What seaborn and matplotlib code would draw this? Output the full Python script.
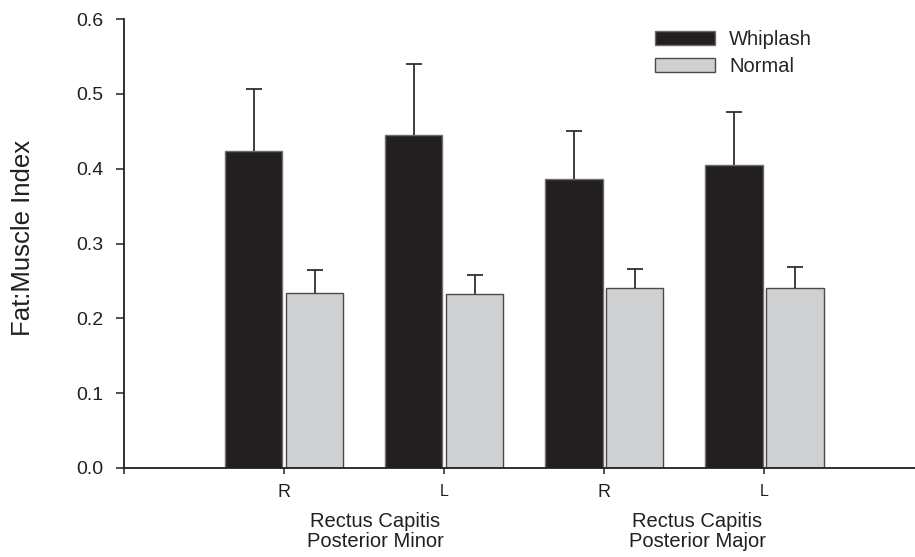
import pandas as pd
import matplotlib
matplotlib.use('Agg')
import matplotlib.pyplot as plt
import seaborn as sns
from matplotlib.patches import Patch

# values
sites = ['R minor', 'L minor', 'R major', 'L major']
side_labels = ['R', 'L', 'R', 'L']
whiplash = [0.423, 0.445, 0.386, 0.405]
whiplash_err = [0.084, 0.095, 0.065, 0.071]
normal = [0.234, 0.232, 0.240, 0.240]
normal_err = [0.030, 0.026, 0.026, 0.028]
groups = ['Whiplash', 'Normal']
muscle_labels = ['Rectus Capitis\nPosterior Minor', 'Rectus Capitis\nPosterior Major']

df = pd.DataFrame({
    'site': sites * 2,
    'group': ['Whiplash'] * 4 + ['Normal'] * 4,
    'index': whiplash + normal,
})

dark = '#231f20'
light = '#cfd0d2'

sns.set_style('ticks')
plt.rcParams['font.family'] = ['Liberation Sans', 'DejaVu Sans']

fig = plt.figure(figsize=(9.15, 5.57), dpi=100)
ax = fig.add_axes([124 / 915, 1 - 468 / 557, 791 / 915, 449 / 557])

sns.barplot(data=df, x='site', y='index', hue='group', order=sites, hue_order=groups,
            palette=[dark, light], width=0.76, gap=0.06, errorbar=None,
            legend=False, ax=ax, saturation=1)

edges = ['#6d6d6d', '#4a4a4a']
errs = [whiplash_err, normal_err]
for cont, ec, err in zip(ax.containers, edges, errs):
    xs, ys = [], []
    for bar in cont:
        bar.set_edgecolor(ec)
        bar.set_linewidth(1.0)
        xs.append(bar.get_x() + bar.get_width() / 2)
        ys.append(bar.get_height())
    eb = ax.errorbar(xs, ys, yerr=[[0] * len(err), err], fmt='none', ecolor='#2f2f2f',
                     elinewidth=1.3, capsize=6, capthick=1.3, zorder=1)
    # only the upper cap is drawn in the original
    eb[1][0].set_visible(False)

ax.set_ylim(0, 0.6)
ax.set_yticks([0.0, 0.1, 0.2, 0.3, 0.4, 0.5, 0.6])
ax.set_yticklabels(['%.1f' % v for v in ax.get_yticks()], fontsize=14, color='#231f20')
ax.set_xlim(-1, 3.94)
ax.set_xticks([-1, 0, 1, 2, 3])
ax.set_xticklabels([''] + side_labels, fontsize=13, color='#231f20')
for lab in ax.get_xticklabels():
    if lab.get_text() == 'L':
        lab.set_fontsize(11.5)

ax.tick_params(axis='y', length=6, width=1.1, color='#231f20', pad=9)
ax.tick_params(axis='x', length=4.5, width=1.1, color='#231f20', pad=7)
sns.despine(ax=ax)
for s in ['left', 'bottom']:
    ax.spines[s].set_linewidth(1.3)
    ax.spines[s].set_color('#231f20')

ax.set_xlabel('')
ax.set_ylabel('Fat:Muscle Index', fontsize=18.5, color='#231f20')
ax.yaxis.set_label_coords(-0.112, 0.512)

for xpos, txt in zip([0.57, 2.58], muscle_labels):
    ax.text(xpos, -0.098, txt, transform=ax.get_xaxis_transform(), ha='center', va='top',
            fontsize=14.5, color='#231f20', linespacing=1.05, clip_on=False)

handles = [Patch(facecolor=dark, edgecolor='#6d6d6d', linewidth=1.0),
           Patch(facecolor=light, edgecolor='#4a4a4a', linewidth=1.0)]
ax.legend(handles, groups, loc='upper left', bbox_to_anchor=(0.671, 0.975), frameon=False,
          fontsize=14.5, handlelength=3.0, handleheight=0.72, handletextpad=0.7,
          labelspacing=0.4, borderpad=0, borderaxespad=0)

fig.savefig('out.png', dpi=100)
